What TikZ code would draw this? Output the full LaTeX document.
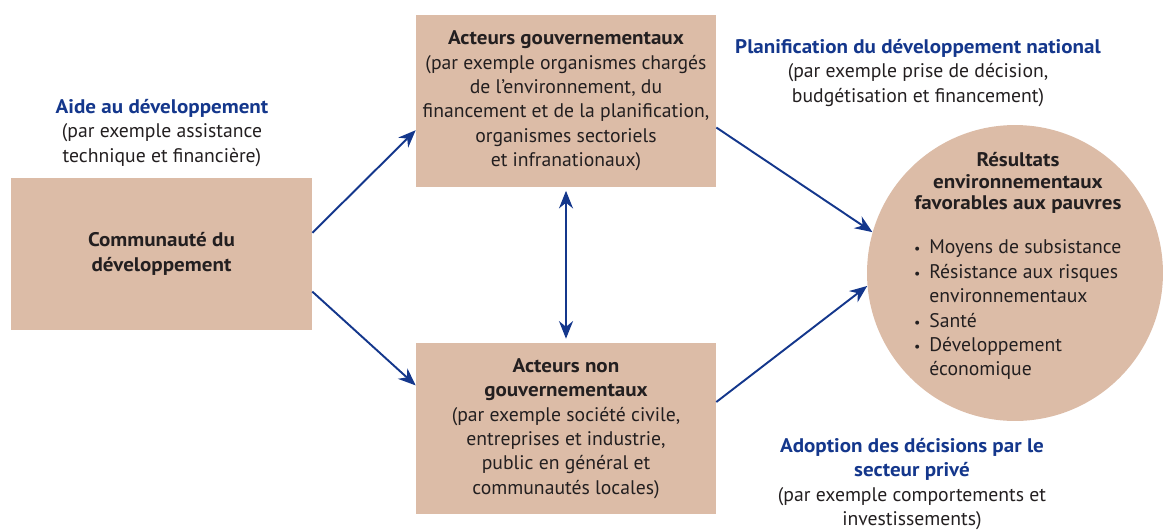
\documentclass[tikz,border=0pt]{standalone}
\usepackage{fontspec}
\setmainfont{PT Sans}[BoldFeatures={FakeStretch=1.07}]
\usetikzlibrary{arrows.meta}
\definecolor{boxtan}{RGB}{220,188,167}
\definecolor{navy}{RGB}{20,55,140}
\definecolor{ink}{RGB}{35,31,32}
\newcommand{\blu}[1]{{\color{navy}\bfseries #1}}

\begin{document}
\begin{tikzpicture}[x=0.02cm,y=-0.02cm,>={Stealth[length=10pt,width=8pt]},
                     txt/.style={align=center,text=ink,font=\fontsize{11.2}{13.9}\selectfont},
                     box/.style={txt,fill=boxtan,inner sep=0pt,minimum width=6cm,minimum height=3.44cm},
                     link/.style={navy,line width=1.1pt,->}]
                     \useasboundingbox (0,0) rectangle (1164,529);
                     % boxes
                     \node[box,minimum width=6.02cm,minimum height=3.04cm,font=\fontsize{11.2}{13.9}\selectfont\bfseries] (comm) at (161.5,254) {Communauté du\\développement};
                     \node[box] (gov) at (566,101) {{\bfseries Acteurs gouvernementaux}\\(par exemple organismes chargés\\de l’environnement, du\\financement et de la planification,\\organismes sectoriels\\et infranationaux)};
                     \node[box] (ngo) at (566,428.5) {{\bfseries Acteurs non}\\{\bfseries gouvernementaux}\\(par exemple société civile,\\entreprises et industrie,\\public en général et\\communautés locales)};
                     \node[fill=boxtan,circle,inner sep=0pt,minimum size=5.92cm] (res) at (1015,273) {};
                     \node[txt,font=\fontsize{11.2}{12.2}\selectfont\bfseries] (restitle) at (1018,183) {Résultats\\environnementaux\\favorables aux pauvres};
                     \node[txt,anchor=west,align=left] (reslist) at (908,310) {\begin{tabular}{@{}l@{\hspace{5pt}}l@{}}
                       {\footnotesize\textbullet} & Moyens de subsistance\\
                       {\footnotesize\textbullet} & Résistance aux risques\\
                       & environnementaux\\
                       {\footnotesize\textbullet} & Santé\\
                       {\footnotesize\textbullet} & Développement\\
                       & économique
                     \end{tabular}};
                     % labels
                     \node[txt] (aid) at (162,133) {\blu{Aide au développement}\\(par exemple assistance\\technique et financière)};
                     \node[txt] (plan) at (918,73) {\blu{Planification du développement national}\\(par exemple prise de décision,\\budgétisation et financement)};
                     \node[txt] (adopt) at (912,484) {\blu{Adoption des décisions par le}\\\blu{secteur privé}\\(par exemple comportements et\\investissements)};
                     % arrows
                     \draw[link] (comm.8.3) -- (gov.191.8);
                     \draw[link] (comm.-14.2) -- (ngo.164.9);
                     \draw[link,<->,shorten <=2pt,shorten >=2pt] (gov.south) -- (ngo.north);
                     \draw[link] (gov.-10.2) -- (res.164.6);
                     \draw[link] (ngo.10.8) -- (res.185.7);
                   \end{tikzpicture}
\end{document}
